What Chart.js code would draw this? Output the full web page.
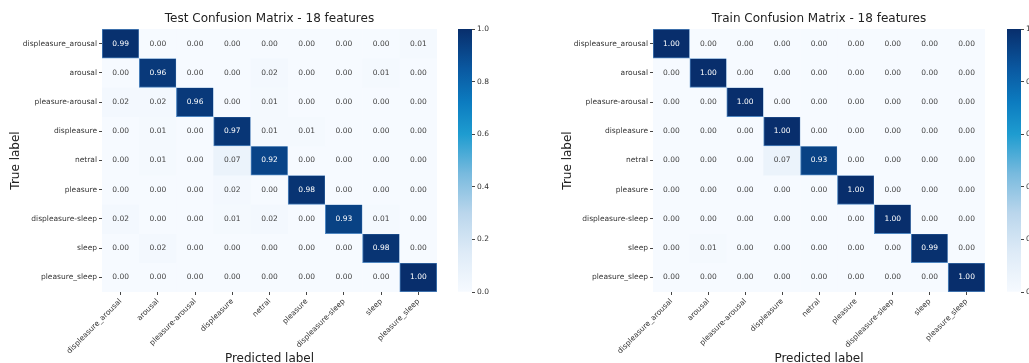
<!DOCTYPE html>
<html>
<head>
<meta charset="utf-8">
<script src="https://cdn.jsdelivr.net/npm/chart.js@4.4.1/dist/chart.umd.min.js"></script>
<style>
  html, body { margin: 0; padding: 0; background: #fff; overflow: hidden; }
  #wrap { position: relative; width: 1029px; height: 363px; overflow: hidden; }
  canvas { position: absolute; top: 0; }
</style>
</head>
<body>
<div id="wrap">
  <canvas id="testMatrix" width="445" height="372" style="left:0px"></canvas>
  <canvas id="testBar" width="54" height="363" style="left:458px"></canvas>
  <canvas id="trainMatrix" width="473" height="372" style="left:520px"></canvas>
  <canvas id="trainBar" width="54" height="363" style="left:1007px"></canvas>
</div>
<script>
const classLabels = ['displeasure_arousal', 'arousal', 'pleasure-arousal', 'displeasure', 'netral', 'pleasure', 'displeasure-sleep', 'sleep', 'pleasure_sleep'];

const testValues = [
  [0.99, 0.00, 0.00, 0.00, 0.00, 0.00, 0.00, 0.00, 0.01],
  [0.00, 0.96, 0.00, 0.00, 0.02, 0.00, 0.00, 0.01, 0.00],
  [0.02, 0.02, 0.96, 0.00, 0.01, 0.00, 0.00, 0.00, 0.00],
  [0.00, 0.01, 0.00, 0.97, 0.01, 0.01, 0.00, 0.00, 0.00],
  [0.00, 0.01, 0.00, 0.07, 0.92, 0.00, 0.00, 0.00, 0.00],
  [0.00, 0.00, 0.00, 0.02, 0.00, 0.98, 0.00, 0.00, 0.00],
  [0.02, 0.00, 0.00, 0.01, 0.02, 0.00, 0.93, 0.01, 0.00],
  [0.00, 0.02, 0.00, 0.00, 0.00, 0.00, 0.00, 0.98, 0.00],
  [0.00, 0.00, 0.00, 0.00, 0.00, 0.00, 0.00, 0.00, 1.00]
];

const trainValues = [
  [1.00, 0.00, 0.00, 0.00, 0.00, 0.00, 0.00, 0.00, 0.00],
  [0.00, 1.00, 0.00, 0.00, 0.00, 0.00, 0.00, 0.00, 0.00],
  [0.00, 0.00, 1.00, 0.00, 0.00, 0.00, 0.00, 0.00, 0.00],
  [0.00, 0.00, 0.00, 1.00, 0.00, 0.00, 0.00, 0.00, 0.00],
  [0.00, 0.00, 0.00, 0.07, 0.93, 0.00, 0.00, 0.00, 0.00],
  [0.00, 0.00, 0.00, 0.00, 0.00, 1.00, 0.00, 0.00, 0.00],
  [0.00, 0.00, 0.00, 0.00, 0.00, 0.00, 1.00, 0.00, 0.00],
  [0.00, 0.01, 0.00, 0.00, 0.00, 0.00, 0.00, 0.99, 0.00],
  [0.00, 0.00, 0.00, 0.00, 0.00, 0.00, 0.00, 0.00, 1.00]
];

const colorbarTicks = [0, 0.2, 0.4, 0.6, 0.8, 1.0];

const FONT = '"DejaVu Sans", "Noto Sans", sans-serif';
Chart.defaults.font.family = FONT;

// blues-like colour map, as seen in the picture
const colorStops = [
  [0.00, [246, 250, 255]],
  [0.15, [222, 235, 247]],
  [0.30, [186, 214, 236]],
  [0.45, [120, 186, 222]],
  [0.60, [30, 156, 208]],
  [0.72, [12, 124, 192]],
  [0.85, [10, 88, 160]],
  [1.00, [8, 46, 108]]
];

function cmap(v) {
  for (let k = 1; k < colorStops.length; k++) {
    const [t1, c1] = colorStops[k];
    const [t0, c0] = colorStops[k - 1];
    if (v <= t1) {
      const f = (v - t0) / (t1 - t0);
      const c = c0.map((a, i) => Math.round(a + (c1[i] - a) * f));
      return `rgb(${c[0]},${c[1]},${c[2]})`;
    }
  }
  const c = colorStops[colorStops.length - 1][1];
  return `rgb(${c[0]},${c[1]},${c[2]})`;
}

function makeMatrix(id, values, title, yAxisWidth, yTitlePad) {
  const cellText = {
    id: 'cellText',
    afterDatasetsDraw(chart) {
      const ctx = chart.ctx;
      ctx.save();
      ctx.font = '7.5px ' + FONT;
      ctx.textAlign = 'center';
      ctx.textBaseline = 'middle';
      values.forEach((row, i) => {
        const meta = chart.getDatasetMeta(i);
        meta.data.forEach((bar, j) => {
          const p = bar.getProps(['x', 'y', 'base'], true);
          ctx.fillStyle = row[j] > 0.5 ? '#ffffff' : '#444444';
          ctx.fillText(row[j].toFixed(2), p.x, (p.y + p.base) / 2);
        });
      });
      ctx.restore();
    }
  };

  return new Chart(document.getElementById(id), {
    type: 'bar',
    data: {
      labels: classLabels,
      datasets: values.map(row => ({
        data: row.map(() => 1),
        backgroundColor: row.map(cmap),
        borderColor: '#4f86c0',
        borderWidth: row.map(v => v > 0.5 ? 1 : 0),
        borderSkipped: false,
        barPercentage: 1,
        categoryPercentage: 1
      }))
    },
    options: {
      responsive: false,
      animation: false,
      layout: { padding: { left: 0, right: 8, top: 0, bottom: 0 } },
      plugins: {
        legend: { display: false },
        tooltip: { enabled: false },
        title: {
          display: true,
          text: title,
          fullSize: false,
          color: '#222',
          font: { size: 12, weight: 'normal' },
          padding: { top: 12, bottom: 2.6 }
        }
      },
      scales: {
        x: {
          stacked: true,
          grid: { drawOnChartArea: false, offset: false, tickLength: 3, color: '#444' },
          border: { display: false },
          ticks: { autoSkip: false, minRotation: 45, maxRotation: 45, color: '#333', font: { size: 7.5 }, padding: 2 },
          title: { display: true, text: 'Predicted label', color: '#222', font: { size: 12 }, padding: { top: 0, bottom: 5.8 } },
          afterFit: s => { s.height = 80; }
        },
        y: {
          stacked: true,
          reverse: true,
          min: 0,
          max: classLabels.length,
          grid: { drawOnChartArea: false, tickLength: 3, color: '#444' },
          border: { display: false },
          afterBuildTicks: s => { s.ticks = classLabels.map((_, i) => ({ value: i + 0.5 })); },
          ticks: { callback: v => classLabels[Math.floor(v)], color: '#333', font: { size: 7.5 }, padding: 2 },
          title: { display: true, text: 'True label', color: '#222', font: { size: 12 }, padding: { top: yTitlePad, bottom: 0 } },
          afterFit: s => { s.width = yAxisWidth; }
        }
      }
    },
    plugins: [cellText]
  });
}

function makeColorbar(id) {
  return new Chart(document.getElementById(id), {
    type: 'bar',
    data: {
      labels: [''],
      datasets: [{
        data: [1],
        backgroundColor: c => {
          const a = c.chart.chartArea;
          if (!a) return null;
          const g = c.chart.ctx.createLinearGradient(0, a.bottom, 0, a.top);
          colorStops.forEach(([t, rgb]) => g.addColorStop(t, `rgb(${rgb.join(',')})`));
          return g;
        },
        barPercentage: 1,
        categoryPercentage: 1
      }]
    },
    options: {
      responsive: false,
      animation: false,
      layout: { padding: { top: 29, bottom: 71, left: 0, right: 0 } },
      plugins: { legend: { display: false }, tooltip: { enabled: false } },
      scales: {
        x: { display: false },
        y: {
          position: 'right',
          min: 0,
          max: 1,
          grid: { drawOnChartArea: false, tickLength: 3, color: '#444' },
          border: { display: false },
          afterBuildTicks: s => { s.ticks = colorbarTicks.map(v => ({ value: v })); },
          ticks: { callback: v => v.toFixed(1), color: '#333', font: { size: 7.5 }, padding: 2 },
          afterFit: s => { s.width = 40; }
        }
      }
    }
  });
}

makeMatrix('testMatrix', testValues, 'Test Confusion Matrix - 18 features', 102, 8.8);
makeMatrix('trainMatrix', trainValues, 'Train Confusion Matrix - 18 features', 133, 40.8);
makeColorbar('testBar');
makeColorbar('trainBar');
</script>
</body>
</html>
